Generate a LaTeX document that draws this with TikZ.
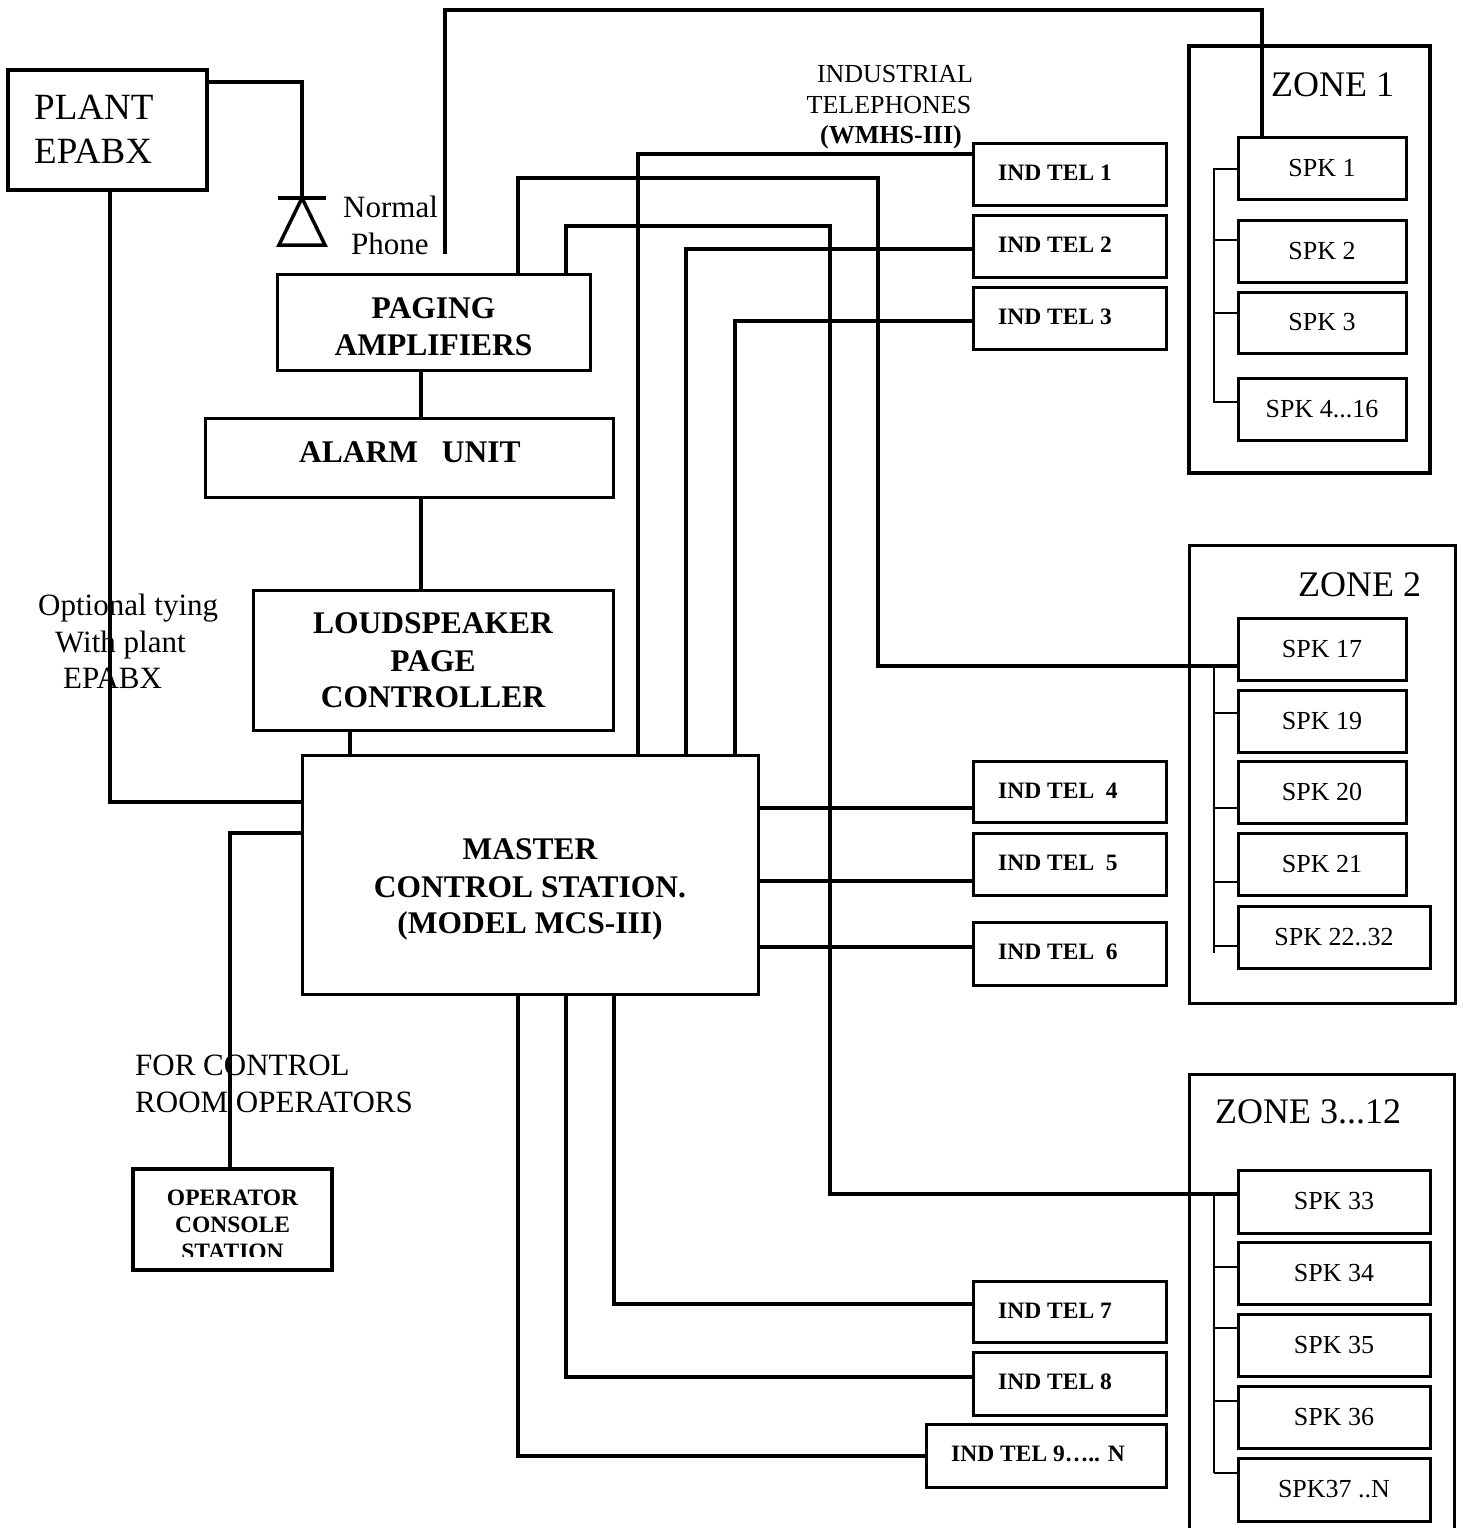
\documentclass[tikz,border=0pt]{standalone}
\usepackage{fontspec}
\setmainfont{Liberation Serif}
\usetikzlibrary{fit}
\begin{document}
\begin{tikzpicture}[x=1pt,y=-1pt,
  box/.style={draw, rectangle, line width=3pt, inner sep=0pt, outer sep=0pt},
  thickbox/.style={box, line width=4pt},
  conn/.style={line width=3.5pt},
  branch/.style={line width=2pt},
  spklbl/.style={inner sep=0pt, anchor=center, font=\fontsize{26}{26}\selectfont},
  lbl/.style={inner sep=0pt, font=\fontsize{31}{31}\selectfont},
  blbl/.style={inner sep=0pt, anchor=base, font=\bfseries\fontsize{31.5}{31.5}\selectfont},
  tel/.style={inner sep=0pt, anchor=base west, font=\bfseries\fontsize{23.5}{23.5}\selectfont},
  zonelbl/.style={inner sep=0pt, anchor=base west, font=\fontsize{36}{36}\selectfont},
  plantlbl/.style={inner sep=0pt, anchor=base west, font=\fontsize{37}{37}\selectfont},
  indlbl/.style={inner sep=0pt, anchor=base, font=\fontsize{26}{26}\selectfont},
  opclbl/.style={inner sep=0pt, anchor=base, font=\bfseries\fontsize{23.5}{23.5}\selectfont}]
\path[use as bounding box] (0,0) rectangle (1463,1528);
\clip (0,0) rectangle (1463,1528);

% ---------- main boxes ----------
\node[thickbox, fit={(8,70) (207,190)}] (pbx) {};
\node[box, fit={(277,274) (590,370)}] (pa) {};
\node[box, fit={(205,418) (613,497)}] (al) {};
\node[box, fit={(253,590) (613,730)}] (lpc) {};
\node[box, fit={(302,755) (758,994)}] (mcs) {};
\node[thickbox, fit={(133,1169) (332,1270)}] (opc) {};

% ---------- industrial telephones ----------
\node[box, fit={(973,143) (1166,205)}] (t1) {};
\node[box, fit={(973,215) (1166,277)}] (t2) {};
\node[box, fit={(973,287) (1166,349)}] (t3) {};
\node[box, fit={(973,761) (1166,822)}] (t4) {};
\node[box, fit={(973,833) (1166,895)}] (t5) {};
\node[box, fit={(973,922) (1166,985)}] (t6) {};
\node[box, fit={(973,1281) (1166,1342)}] (t7) {};
\node[box, fit={(973,1352) (1166,1415)}] (t8) {};
\node[box, fit={(926,1424) (1166,1487)}] (t9) {};

% ---------- zones ----------
\node[thickbox, fit={(1189,46) (1430,473)}] (z1) {};
\node[box, fit={(1189,545) (1455,1003)}] (z2) {};
\node[box, fit={(1189,1074) (1454,1560)}] (z3) {};

\node[box, fit={(1238,137) (1406,199)}] (s1) {};
\node[box, fit={(1238,220) (1406,282)}] (s2) {};
\node[box, fit={(1238,292) (1406,353)}] (s3) {};
\node[box, fit={(1238,378) (1406,440)}] (s4) {};

\node[box, fit={(1238,618) (1406,680)}] (s17) {};
\node[box, fit={(1238,690) (1406,752)}] (s19) {};
\node[box, fit={(1238,761) (1406,823)}] (s20) {};
\node[box, fit={(1238,833) (1406,895)}] (s21) {};
\node[box, fit={(1238,906) (1430,968)}] (s22) {};

\node[box, fit={(1238,1170) (1430,1233)}] (s33) {};
\node[box, fit={(1238,1242) (1430,1304)}] (s34) {};
\node[box, fit={(1238,1314) (1430,1376)}] (s35) {};
\node[box, fit={(1238,1386) (1430,1448)}] (s36) {};
\node[box, fit={(1238,1458) (1430,1521)}] (s37) {};

\node[spklbl] (ls1) at (s1.center) {SPK 1};
\node[spklbl] (ls2) at (s2.center) {SPK 2};
\node[spklbl] (ls3) at (s3.center) {SPK 3};
\node[spklbl] (ls4) at (s4.center) {SPK 4...16};
\node[spklbl] (ls17) at (s17.center) {SPK 17};
\node[spklbl] (ls19) at (s19.center) {SPK 19};
\node[spklbl] (ls20) at (s20.center) {SPK 20};
\node[spklbl] (ls21) at (s21.center) {SPK 21};
\node[spklbl] (ls22) at (s22.center) {SPK 22..32};
\node[spklbl] (ls33) at (s33.center) {SPK 33};
\node[spklbl] (ls34) at (s34.center) {SPK 34};
\node[spklbl] (ls35) at (s35.center) {SPK 35};
\node[spklbl] (ls36) at (s36.center) {SPK 36};
\node[spklbl] (ls37) at (s37.center) {SPK37 ..N};

% ---------- labels ----------
\node[plantlbl] (lplant) at (34,119) {PLANT};
\node[plantlbl] (lepabx) at (34,163) {EPABX};

\node[lbl, anchor=base west] (lnormal) at (343,217) {Normal};
\node[lbl, anchor=base west] (lphone) at (351,254) {Phone};

\node[indlbl] (lind) at (895,82) {INDUSTRIAL};
\node[indlbl] (ltel) at (889,113) {TELEPHONES};
\node[indlbl, font=\bfseries\fontsize{26}{26}\selectfont] (lwmhs) at (891,143) {(WMHS-III)};

\node[zonelbl] (lz1) at (1271,96) {ZONE 1};
\node[zonelbl] (lz2) at (1298,596) {ZONE 2};
\node[zonelbl] (lz3) at (1215,1123) {ZONE 3...12};

\node[blbl] (lpa1) at (433.5,318) {PAGING};
\node[blbl] (lpa2) at (433.5,355) {AMPLIFIERS};
\node[blbl, anchor=base west] (lal) at (299,462) {ALARM\ \ \ UNIT};
\node[blbl] (llpc1) at (433,633) {LOUDSPEAKER};
\node[blbl] (llpc2) at (433,671) {PAGE};
\node[blbl] (llpc3) at (433,707) {CONTROLLER};
\node[blbl] (lmcs1) at (530,859) {MASTER};
\node[blbl] (lmcs2) at (530,897) {CONTROL STATION.};
\node[blbl] (lmcs3) at (530,933) {(MODEL MCS-III)};

\node[lbl, anchor=base west] (lopt1) at (38,615) {Optional tying};
\node[lbl, anchor=base west] (lopt2) at (55,652) {With plant};
\node[lbl, anchor=base west] (lopt3) at (63,688) {EPABX};

\node[lbl, anchor=base west] (lfor1) at (135,1075) {FOR CONTROL};
\node[lbl, anchor=base west] (lfor2) at (135,1112) {ROOM OPERATORS};

\node[opclbl] (lopc1) at (232.5,1205) {OPERATOR};
\node[opclbl] (lopc2) at (232.5,1232) {CONSOLE};
\begin{scope}
  \clip (135,1171) rectangle (330,1256);
  \node[opclbl] (lopc3) at (232.5,1259) {STATION};
\end{scope}

\node[tel] (lt1) at (998,180) {IND TEL 1};
\node[tel] (lt2) at (998,252) {IND TEL 2};
\node[tel] (lt3) at (998,324) {IND TEL 3};
\node[tel] (lt4) at (998,798) {IND TEL\ \ 4};
\node[tel] (lt5) at (998,870) {IND TEL\ \ 5};
\node[tel] (lt6) at (998,959) {IND TEL\ \ 6};
\node[tel] (lt7) at (998,1318) {IND TEL 7};
\node[tel] (lt8) at (998,1389) {IND TEL 8};
\node[tel] (lt9) at (951,1461) {IND TEL 9….. N};

% ---------- normal phone symbol ----------
\coordinate (ph) at (302,198);
\coordinate (phl) at (445,254);
\draw[line width=3.5pt] (278,198) -- (326,198);
\draw[line width=3.5pt] (ph) -- (279,245) -- (325,245) -- cycle;

% ---------- connectors ----------
\draw[conn] (pbx.east |- 0,82) -| (ph);
\draw[conn] (phl) |- (1262,10) -- (1262,0 |- s1.north);

\draw[conn] (518,0 |- pa.north) |- (878,178) |- (s17.west |- 0,666);
\draw[conn] (566,0 |- pa.north) |- (830,226) |- (s33.west |- 0,1194);

\draw[conn] (638,0 |- mcs.north) |- (t1.west |- 0,154);
\draw[conn] (686,0 |- mcs.north) |- (t2.west |- 0,249);
\draw[conn] (735,0 |- mcs.north) |- (t3.west |- 0,321);

\draw[conn] (mcs.east |- 0,808) -- (t4.west |- 0,808);
\draw[conn] (mcs.east |- 0,881) -- (t5.west |- 0,881);
\draw[conn] (mcs.east |- 0,947) -- (t6.west |- 0,947);

\draw[conn] (614,0 |- mcs.south) |- (t7.west |- 0,1304);
\draw[conn] (566,0 |- mcs.south) |- (t8.west |- 0,1377);
\draw[conn] (518,0 |- mcs.south) |- (t9.west |- 0,1456);

\draw[conn] (421,0 |- pa.south) -- (421,0 |- al.north);
\draw[conn] (421,0 |- al.south) -- (421,0 |- lpc.north);
\draw[conn] (350,0 |- lpc.south) -- (350,0 |- mcs.north);

\draw[conn] (mcs.west |- 0,802) -| (110,0 |- pbx.south);
\draw[conn] (mcs.west |- 0,833) -| (230,0 |- opc.north);

% ---------- speaker branches ----------
\draw[branch] (s1.west |- 0,169) -- (1214,169) -- (1214,402) -- (s4.west |- 0,402);
\draw[branch] (1214,240) -- (s2.west |- 0,240);
\draw[branch] (1214,313) -- (s3.west |- 0,313);

\draw[branch] (1214,666) -- (1214,953);
\draw[branch] (1214,713) -- (s19.west |- 0,713);
\draw[branch] (1214,808) -- (s20.west |- 0,808);
\draw[branch] (1214,882) -- (s21.west |- 0,882);
\draw[branch] (1214,946) -- (s22.west |- 0,946);

\draw[branch] (1214,1194) -- (1214,1473);
\draw[branch] (1214,1267) -- (s34.west |- 0,1267);
\draw[branch] (1214,1328) -- (s35.west |- 0,1328);
\draw[branch] (1214,1401) -- (s36.west |- 0,1401);
\draw[branch] (1214,1473) -- (s37.west |- 0,1473);
\end{tikzpicture}
\end{document}
